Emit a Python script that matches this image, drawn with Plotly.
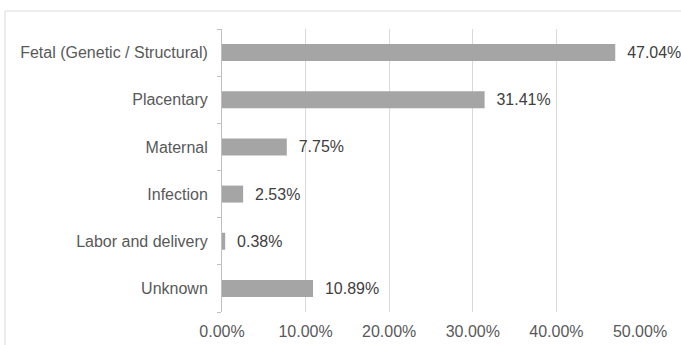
import plotly.graph_objects as go

categories = ["Fetal (Genetic / Structural)", "Placentary", "Maternal", "Infection",
              "Labor and delivery", "Unknown"]
values = [0.4704, 0.3141, 0.0775, 0.0253, 0.0038, 0.1089]
labels = ["47.04%", "31.41%", "7.75%", "2.53%", "0.38%", "10.89%"]
tick_vals = [0, 0.1, 0.2, 0.3, 0.4, 0.5]
tick_text = ["0.00%", "10.00%", "20.00%", "30.00%", "40.00%", "50.00%"]

W, H = 681, 345
L, R, T, B = 222, 41, 29, 33

FONT = "Liberation Sans, Arial, sans-serif"

fig = go.Figure(go.Bar(
    y=categories, x=values, orientation="h",
    marker=dict(color="#a5a5a5", line=dict(width=0)),
    width=0.36,
    text=labels, texttemplate="  %{text}", textposition="outside", cliponaxis=False,
    textfont=dict(family=FONT, size=16, color="#404040"),
))

pw = W - L - R
ph = H - T - B
fig.add_shape(type="rect", xref="paper", yref="paper",
              x0=(5 - L) / pw, x1=(W + 10 - L) / pw,
              y0=-(H + 10 - T - ph) / ph, y1=(H - 11 - B) / ph,
              line=dict(color="#d9d9d9", width=1), fillcolor="rgba(0,0,0,0)", layer="below")

fig.update_layout(
    width=W, height=H, margin=dict(l=L, r=R, t=T, b=B, autoexpand=False),
    paper_bgcolor="white", plot_bgcolor="white", showlegend=False,
    font=dict(family=FONT, size=16, color="#595959"),
    xaxis=dict(range=[0, 0.5], tickvals=tick_vals, ticktext=tick_text,
               showgrid=True, gridcolor="#d9d9d9", gridwidth=1, zeroline=False,
               showline=False, ticks="", ticklabelstandoff=8, automargin=False,
               tickfont=dict(family=FONT, size=16, color="#595959")),
    yaxis=dict(categoryorder="array", categoryarray=categories[::-1],
               showline=True, linecolor="#bfbfbf", linewidth=1, automargin=False,
               ticks="outside", tickson="boundaries", ticklen=4, tickcolor="#bfbfbf",
               ticklabelstandoff=10,
               showgrid=False, tickfont=dict(family=FONT, size=16, color="#595959")),
)

fig.write_html("out.html")
